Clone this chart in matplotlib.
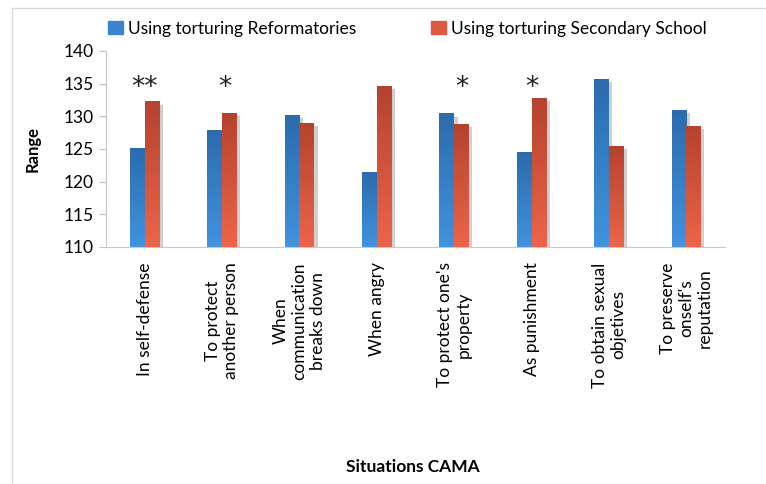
import matplotlib
matplotlib.use('Agg')
import matplotlib.pyplot as plt
import matplotlib.transforms as mtransforms
import numpy as np
from matplotlib.colors import LinearSegmentedColormap
from matplotlib.patches import Patch
from matplotlib.lines import Line2D

plt.rcParams['font.family'] = ['Lato', 'DejaVu Sans']

situations = ["In self-defense", "To protect\nanother person", "When\ncommunication\nbreaks down",
              "When angry", "To protect one's\nproperty", "As punishment",
              "To obtain sexual\nobjetives", "To preserve\nonself's\nreputation"]
reformatories = [125.1, 127.8, 130.2, 121.4, 130.4, 124.4, 135.7, 130.9]
secondary = [132.2, 130.5, 128.9, 134.6, 128.8, 132.8, 125.4, 128.5]
# significance marks
stars = ["**", "*", "", "", "*", "*", "", ""]
star_shift = [0.0, 0.04, 0, 0, 0.1, 0.0, 0, 0]

series_names = ["Using torturing Reformatories", "Using torturing Secondary School"]

blue_map = LinearSegmentedColormap.from_list('b', ['#4093DD', '#2C6BAE'])
red_map = LinearSegmentedColormap.from_list('r', ['#EC644A', '#B5432E'])

fig = plt.figure(figsize=(7.66, 4.84), dpi=100)
ax = fig.add_axes([0.1384, 0.4897, 0.808, 0.405])

x = np.arange(len(situations))
w = 0.19
ymin = 110
grad = np.linspace(0, 1, 64).reshape(-1, 1)

# shadow bars
for xs, vals in [(x - w / 2, reformatories), (x + w / 2, secondary)]:
    for xi, v in zip(xs, vals):
        ax.bar(xi + 0.045, v - 0.45 - ymin, w, bottom=ymin, color='#CFCFCF', zorder=1, linewidth=0)

for xs, vals, cmap in [(x - w / 2, reformatories, blue_map), (x + w / 2, secondary, red_map)]:
    for xi, v in zip(xs, vals):
        ax.imshow(grad, extent=[xi - w / 2, xi + w / 2, ymin, v], origin='lower', aspect='auto',
                  cmap=cmap, zorder=2 if cmap is blue_map else 3, interpolation='bilinear')

for i, s in enumerate(stars):
    if s:
        ax.text(x[i] + star_shift[i], 134.3, s, ha='center', va='center', fontsize=19,
                family='DejaVu Sans', color='#222222')

ax.set_xlim(-0.5, len(situations) - 0.5)
ax.set_ylim(110, 140)
ax.set_yticks(np.arange(110, 141, 5))
ax.set_xticks(x)
ax.set_xticklabels(situations, rotation=90, ha='center', va='top', multialignment='center', fontsize=12.5)
off = mtransforms.ScaledTranslation(3 / 100, 0, fig.dpi_scale_trans)
for lab in ax.get_xticklabels():
    lab.set_transform(lab.get_transform() + off)
ax.tick_params(axis='x', length=0, pad=11)
ax.tick_params(axis='y', length=5, color='#BFBFBF', labelsize=12.5, pad=4)
for sp in ['top', 'right']:
    ax.spines[sp].set_visible(False)
for sp in ['left', 'bottom']:
    ax.spines[sp].set_color('#C8C8C8')

ax.set_ylabel('Range', fontsize=12, fontweight='bold', labelpad=16)
fig.text(0.539, 0.035, 'Situations CAMA', ha='center', va='center', fontsize=12.5, fontweight='bold')

handles = [Patch(color='#3A84D0'), Patch(color='#DD5A40')]
fig.legend(handles, series_names, loc='center left', bbox_to_anchor=(0.141, 0.941), ncol=2,
           frameon=False, fontsize=12.5, handlelength=0.85, handleheight=0.75, handletextpad=0.3,
           columnspacing=4.3, borderpad=0, borderaxespad=0)

# outer chart border (partially visible)
fig.add_artist(Line2D([0.016, 1.0], [0.983, 0.983], color='#D9D9D9', lw=1))
fig.add_artist(Line2D([0.016, 0.016], [0.0, 0.983], color='#D9D9D9', lw=1))

fig.savefig('out.png', dpi=100)
